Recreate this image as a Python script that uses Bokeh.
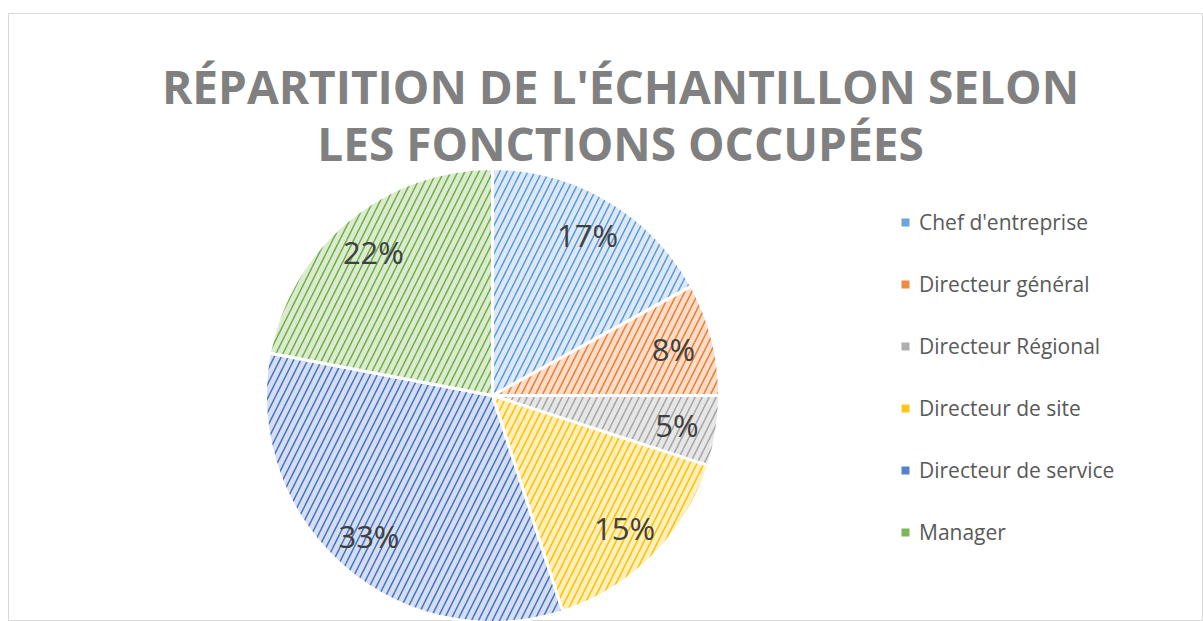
import math
from bokeh.plotting import figure
from bokeh.models import ColumnDataSource, Range1d, Label, Legend, LegendItem
from bokeh.core.properties import value
from bokeh.embed import file_html
from bokeh.resources import INLINE

# ---- data ----
categories = ["Chef d'entreprise", "Directeur général", "Directeur Régional",
              "Directeur de site", "Directeur de service", "Manager"]
shares = [17, 8, 5, 15, 33, 22]
title_lines = ["RÉPARTITION DE L'ÉCHANTILLON SELON", "LES FONCTIONS OCCUPÉES"]

# ---- styles ----
hatch_colors = ["#5B9BD5", "#ED7D31", "#A5A5A5", "#FFC000", "#4472C4", "#70AD47"]
fill_colors = ["#DCE8F5", "#FBDDC9", "#E6E6E6", "#FFEFBC", "#D5DEF1", "#DBEBD0"]

FW, FH = 1195, 608
p = figure(width=1203, height=621, output_backend="svg", toolbar_location=None,
           x_range=Range1d(0, FW), y_range=Range1d(0, FH),
           min_border_left=8, min_border_right=0, min_border_top=13, min_border_bottom=0)
p.axis.visible = False
p.grid.visible = False
p.outline_line_color = "#D9D9D9"
p.outline_line_width = 1
p.background_fill_color = "white"
p.border_fill_color = "white"

cx, cy, R = 484, 226, 227
total = float(sum(shares))
starts, ends, lx, ly, texts = [], [], [], [], []
cum = 0.0
for v in shares:
    a0 = math.pi / 2 - 2 * math.pi * cum / total
    a1 = math.pi / 2 - 2 * math.pi * (cum + v) / total
    starts.append(a0)
    ends.append(a1)
    mid = (a0 + a1) / 2
    lx.append(cx + 0.823 * R * math.cos(mid))
    ly.append(cy + 0.823 * R * math.sin(mid))
    texts.append(f"{round(100 * v / total)}%")
    cum += v

src = ColumnDataSource(dict(cat=categories, start=starts, end=ends,
                            fill=fill_colors, hatch=hatch_colors))
p.wedge(x=cx, y=cy, radius=R, start_angle="start", end_angle="end",
        direction="clock", source=src, fill_color="fill",
        hatch_pattern="/", hatch_color="hatch", hatch_scale=14, hatch_weight=1.5,
        line_color="white", line_width=3)

# legend proxy (not drawn in the plot, only used for legend squares)
proxy = p.rect(x=cx, y=cy, width=0, height=0, source=src, fill_color="hatch",
               fill_alpha=0.9, line_color=None, visible=False)

lsrc = ColumnDataSource(dict(x=lx, y=ly, t=texts))
p.text(x="x", y="y", text="t", source=lsrc, text_font=value("Open Sans"),
       text_font_size="31px", text_color="#404040", text_align="center",
       text_baseline="middle")

for i, line in enumerate(title_lines):
    p.add_layout(Label(x=612, y=536 - 57 * i, text=line, text_font="Open Sans",
                       text_font_style="bold", text_font_size="46px",
                       text_color="#808080", text_align="center",
                       text_baseline="middle"))

items = [LegendItem(label=c, renderers=[proxy], index=i) for i, c in enumerate(categories)]
legend = Legend(items=items, location=(892, 74), orientation="vertical",
                label_text_font="Open Sans", label_text_font_size="21px",
                label_text_color="#595959", glyph_width=10, glyph_height=10,
                label_standoff=9, label_height=30, spacing=32,
                padding=0, margin=0, border_line_color=None,
                background_fill_alpha=0, click_policy="none")
p.add_layout(legend, "center")

open("out.html", "w").write(file_html(p, INLINE))
